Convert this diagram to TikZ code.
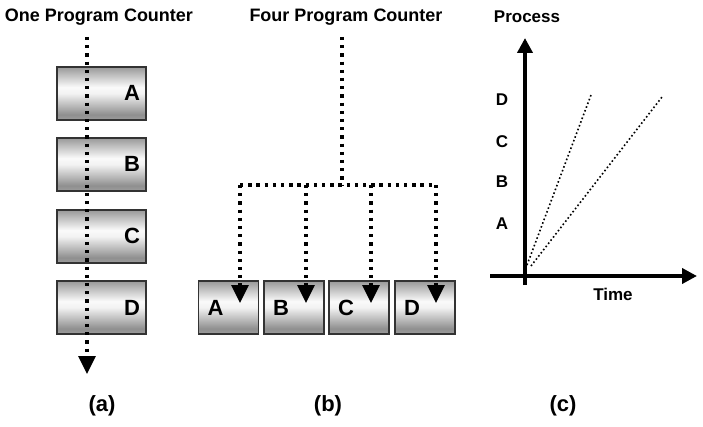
\documentclass[tikz,border=0pt]{standalone}
\usepackage{fontspec}
\setmainfont{Liberation Sans}
\usetikzlibrary{arrows.meta}
\definecolor{sga}{gray}{0.62}
\definecolor{sgb}{gray}{0.56}
\definecolor{sgc}{gray}{0.95}
\definecolor{sgd}{gray}{0.98}
\definecolor{sge}{gray}{0.60}
\definecolor{boxline}{gray}{0.2}
\pgfdeclareverticalshading{boxshade}{100bp}{color(0bp)=(sga); color(25bp)=(sga); color(30bp)=(sgb); color(50bp)=(sgc); color(56bp)=(sgd); color(75bp)=(sge); color(100bp)=(sge)}
\begin{document}
\begin{tikzpicture}[x=1pt,y=-1pt,
  fatdot/.style={line width=3.3pt, dash pattern=on 3.3pt off 4.9pt},
  thindot/.style={line width=1.6pt, dash pattern=on 1.6pt off 2.4pt},
  tipbig/.style={-{Triangle[width=17pt,length=18pt]}},
  tipax/.style={-{Triangle[width=15pt,length=15pt]}},
  boxbase/.style={draw=boxline, line width=1.2pt, shade, shading=boxshade,
    minimum height=53pt, text height=15pt, text depth=0pt,
    font=\bfseries\fontsize{22}{24}\selectfont},
  boxa/.style={boxbase, inner xsep=6pt, text width=77pt, align=right},
  boxb/.style={boxbase, inner xsep=9pt, text width=42pt, align=left},
  title/.style={font=\bfseries\fontsize{18}{20}\selectfont, inner sep=0pt},
  ctext/.style={font=\bfseries\fontsize{17}{19}\selectfont, inner sep=0pt},
  capt/.style={font=\bfseries\fontsize{22}{24}\selectfont, inner sep=0pt}]
\useasboundingbox (0,0) rectangle (703,427);
\fill[white] (0,0) rectangle (703,427);

% (a)
\node[title] (ta) at (99,17) {One Program Counter};
\node[boxa] (a1) at (101.5,93.5) {A};
\node[boxa] (a2) at (101.5,164.5) {B};
\node[boxa] (a3) at (101.5,236.5) {C};
\node[boxa] (a4) at (101.5,307.5) {D};
\coordinate (astart) at (87,37);
\coordinate (aend) at (87,374);
\draw[fatdot,tipbig] (astart) -- (aend);
\node[capt] (capa) at (102,406) {(a)};

% (b)
\node[title] (tb) at (346,17) {Four Program Counter};
\node[boxb] (b1) at (228.5,307.5) {A};
\node[boxb] (b2) at (294,307.5) {B};
\node[boxb] (b3) at (359,307.5) {C};
\node[boxb] (b4) at (425,307.5) {D};
\coordinate (bstart) at (342,37);
\coordinate (bj) at (342,185);
\coordinate (jA) at (240,185);
\coordinate (jB) at (306,185);
\coordinate (jC) at (371,185);
\coordinate (jD) at (436,185);
\coordinate (pA) at (240,303);
\coordinate (pB) at (306,303);
\coordinate (pC) at (371,303);
\coordinate (pD) at (436,303);
\draw[fatdot] (bstart) -- (bj);
\draw[fatdot] (jA) -- (jD);
\draw[fatdot,tipbig] (jA) -- (pA);
\draw[fatdot,tipbig] (jB) -- (pB);
\draw[fatdot,tipbig] (jC) -- (pC);
\draw[fatdot,tipbig] (jD) -- (pD);
\node[capt] (capb) at (328,406) {(b)};

% (c)
\node[ctext] (proc) at (527,17) {Process};
\node[ctext] (time) at (613,294) {Time};
\node[ctext] (lD) at (502,100) {D};
\node[ctext] (lC) at (502,142) {C};
\node[ctext] (lB) at (502,182) {B};
\node[ctext] (lA) at (502,224) {A};
\coordinate (vb) at (525,285);
\coordinate (vt) at (525,38);
\coordinate (hl) at (490,276);
\coordinate (hr) at (697,276);
\draw[line width=4pt,tipax] (vb) -- (vt);
\draw[line width=4pt,tipax] (hl) -- (hr);
\coordinate (s1) at (527,265);
\coordinate (e1) at (591,95);
\coordinate (s2) at (531,266);
\coordinate (e2) at (662,97);
\draw[thindot] (s1) -- (e1);
\draw[thindot] (s2) -- (e2);
\node[capt] (capc) at (563,406) {(c)};
\end{tikzpicture}
\end{document}
